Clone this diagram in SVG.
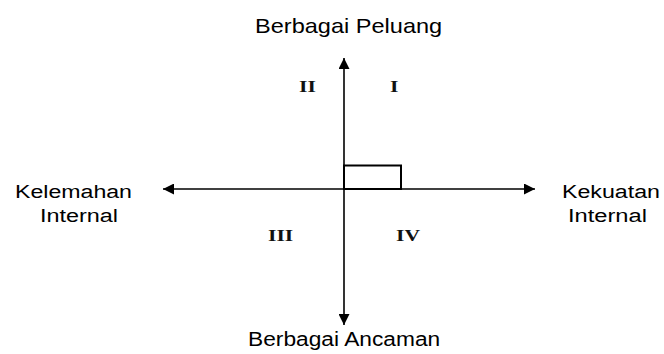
<svg xmlns="http://www.w3.org/2000/svg" width="664" height="354" viewBox="0 0 664 354">
<style>
.lbl{font-family:"Liberation Sans",Arial,sans-serif;fill:#000;}
.rom{font-family:"Liberation Serif","Times New Roman",serif;font-weight:bold;font-size:16px;fill:#111;}
.ax{stroke:#000;stroke-width:1.6;fill:none;}
</style>
<defs>
<marker id="arr" viewBox="0 0 10 10" refX="10" refY="5" markerWidth="11" markerHeight="11" markerUnits="userSpaceOnUse" orient="auto-start-reverse">
<path d="M0,0 L10,5 L0,10 z" fill="#000"/>
</marker>
</defs>
<rect width="664" height="354" fill="#fff"/>
<g id="connectors">
<line class="ax" x1="344" y1="325" x2="344" y2="58" marker-end="url(#arr)" marker-start="url(#arr)"/>
<line class="ax" x1="163" y1="189" x2="535" y2="189" marker-end="url(#arr)" marker-start="url(#arr)"/>
</g>
<g id="marker-box">
<rect x="344" y="165.5" width="57" height="23.5" fill="none" stroke="#000" stroke-width="2"/>
</g>
<g id="top-label"><text class="lbl" transform="translate(255,33) scale(1.17,1)" font-size="20" textLength="160" lengthAdjust="spacingAndGlyphs">Berbagai Peluang</text></g>
<g id="bottom-label"><text class="lbl" transform="translate(248,346) scale(1.08,1)" font-size="21" textLength="178" lengthAdjust="spacingAndGlyphs">Berbagai Ancaman</text></g>
<g id="left-label">
<text class="lbl" transform="translate(15,198) scale(1.28,1)" font-size="18" textLength="91.4" lengthAdjust="spacingAndGlyphs">Kelemahan</text>
<text class="lbl" transform="translate(40,222) scale(1.28,1)" font-size="18" textLength="61" lengthAdjust="spacingAndGlyphs">Internal</text>
</g>
<g id="right-label">
<text class="lbl" transform="translate(562,198) scale(1.28,1)" font-size="18" textLength="76.5" lengthAdjust="spacingAndGlyphs">Kekuatan</text>
<text class="lbl" transform="translate(568,222) scale(1.28,1)" font-size="18" textLength="61.7" lengthAdjust="spacingAndGlyphs">Internal</text>
</g>
<g id="q2"><text class="rom" transform="translate(299,92) scale(1.35,1)">II</text></g>
<g id="q1"><text class="rom" transform="translate(390,92) scale(1.35,1)">I</text></g>
<g id="q3"><text class="rom" transform="translate(268,241) scale(1.35,1)">III</text></g>
<g id="q4"><text class="rom" transform="translate(396,241) scale(1.35,1)">IV</text></g>
</svg>
